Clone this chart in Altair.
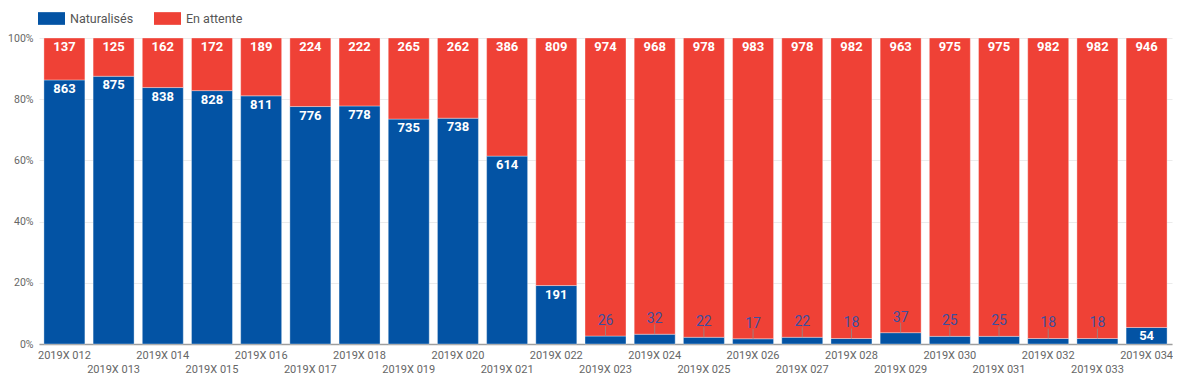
import altair as alt
import pandas as pd

weeks = ["2019X 0%02d" % i for i in range(12, 35)]
naturalises = [863, 875, 838, 828, 811, 776, 778, 735, 738, 614, 191, 26, 32, 22, 17, 22, 18, 37, 25, 25, 18, 18, 54]
en_attente = [137, 125, 162, 172, 189, 224, 222, 265, 262, 386, 809, 974, 968, 978, 983, 978, 982, 963, 975, 975, 982, 982, 946]
series_names = ["Naturalisés", "En attente"]
colors = ["#0353A4", "#EF4136"]

rows = []
for w, n, a in zip(weeks, naturalises, en_attente):
    tot = n + a
    fn = n / tot
    rows.append(dict(week=w, series=series_names[0], value=n, y0=0.0, y1=fn,
                     inside=fn >= 0.05))
    rows.append(dict(week=w, series=series_names[1], value=a, y0=fn, y1=1.0,
                     inside=True))
df = pd.DataFrame(rows)

W, H = 1133, 306
FONT = "Roboto"

x_enc = alt.X(
    "week:N", sort=weeks, title=None,
    scale=alt.Scale(paddingInner=0.167, paddingOuter=0.1),
    axis=alt.Axis(
        labelAngle=0, labelOverlap=False, ticks=False, grid=False,
        domainColor="#9e9e9e", domainWidth=1.5,
        labelColor="#666666", labelFontSize=11, labelFont=FONT,
        labelPadding={"condition": {"test": "parseInt(substring(datum.value, 6)) % 2 == 1", "value": 19},
                      "value": 5},
    ),
)

y_vals = [i / 10 for i in range(11)]
y_enc = alt.Y(
    "y1:Q", title=None,
    scale=alt.Scale(domain=[0, 1], nice=False),
    axis=alt.Axis(
        values=y_vals, format="%",
        labelExpr="round(datum.value*10) % 2 == 0 ? format(datum.value, '.0%') : ''",
        domain=False, ticks=False, gridColor="#ebebeb",
        labelColor="#666666", labelFontSize=10.5, labelFont=FONT, labelPadding=6,
    ),
)

base = alt.Chart(df)

bars = base.mark_bar(stroke="white", strokeWidth=0.7, strokeOpacity=0.5).encode(
    x=x_enc,
    y=y_enc,
    y2="y0:Q",
    color=alt.Color(
        "series:N",
        scale=alt.Scale(domain=series_names, range=colors),
        legend=alt.Legend(
            orient="none", legendX=-1, legendY=-33, direction="horizontal", title=None,
            symbolType="M-1,-0.47L1,-0.47L1,0.47L-1,0.47Z", symbolSize=729,
            symbolStrokeWidth=0, symbolOpacity=1,
            labelFontSize=12.5, labelColor="#555555", labelFont=FONT,
            labelOffset=5, columnPadding=20, padding=0,
        ),
    ),
)

inside_labels = base.transform_filter("datum.inside").mark_text(
    baseline="top", dy=3, color="white", fontWeight="bold", fontSize=13, font=FONT
).encode(
    x=alt.X("week:N", sort=weeks),
    y=alt.Y("y1:Q"),
    text="value:Q",
)

outside = base.transform_filter("!datum.inside")
leaders = outside.mark_rule(color="#8c8c8c", opacity=0.8, strokeWidth=1, y2Offset=-10).encode(
    x=alt.X("week:N", sort=weeks),
    y=alt.Y("y1:Q"),
    y2=alt.Y2("y1:Q"),
)
outside_labels = outside.mark_text(
    baseline="alphabetic", dy=-11, color="#3d4f9f", fontSize=14, font=FONT
).encode(
    x=alt.X("week:N", sort=weeks),
    y=alt.Y("y1:Q"),
    text="value:Q",
)

chart = alt.layer(bars, inside_labels, leaders, outside_labels).properties(
    width=W, height=H,
    autosize=alt.AutoSizeParams(type="none"),
    padding={"left": 31, "top": 30, "right": 1, "bottom": 30},
).configure_view(stroke=None)

chart.save("out.html", embed_options={"renderer": "svg", "actions": False})
